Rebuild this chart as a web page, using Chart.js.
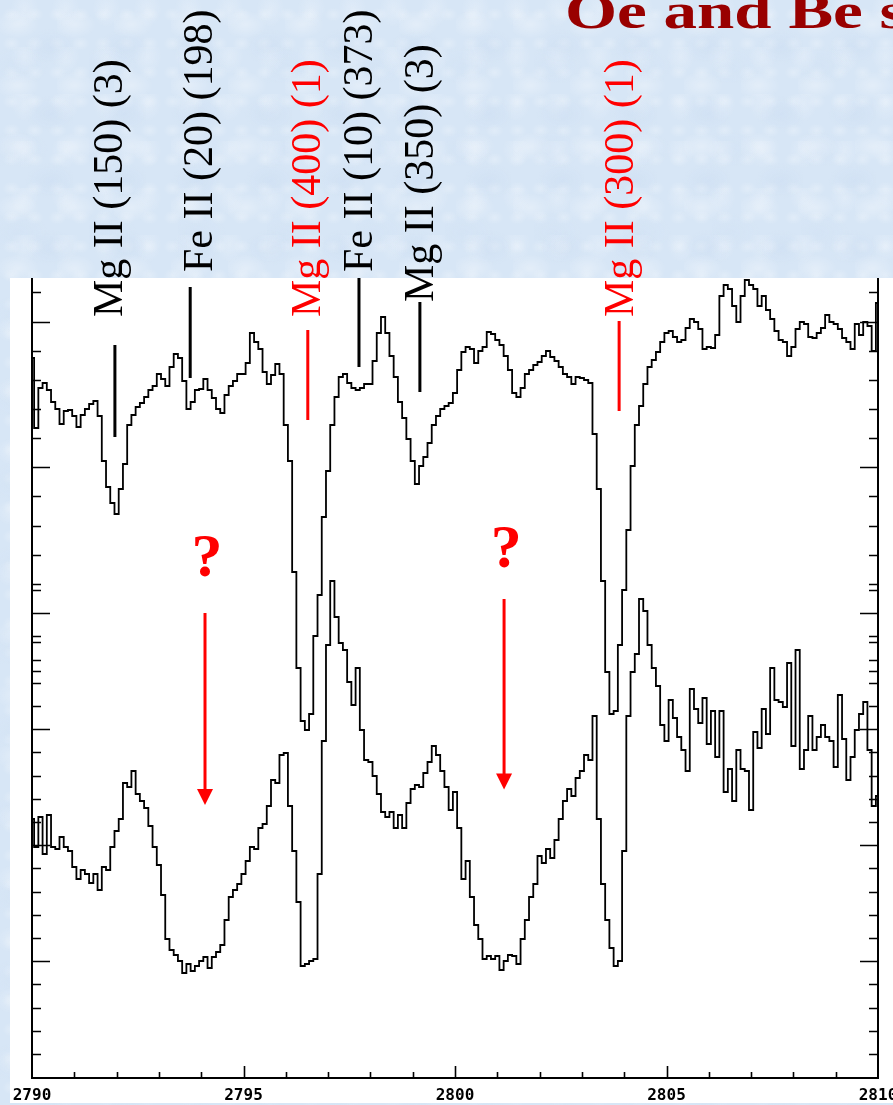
<!DOCTYPE html>
<html>
<head>
<meta charset="utf-8">
<script src="https://cdn.jsdelivr.net/npm/chart.js@4.4.1/dist/chart.umd.min.js"></script>
<style>
  html, body { margin:0; padding:0; }
  body {
    width:893px; height:1105px; overflow:hidden; position:relative;
    background-color:#d7e6f6;
    background-image:
      radial-gradient(ellipse 22px 14px at 30% 40%, rgba(255,255,255,.30), rgba(255,255,255,0)),
      radial-gradient(ellipse 26px 18px at 70% 70%, rgba(190,210,236,.22), rgba(190,210,236,0)),
      radial-gradient(ellipse 14px 18px at 60% 20%, rgba(244,248,253,.30), rgba(244,248,253,0)),
      radial-gradient(ellipse 30px 20px at 20% 80%, rgba(205,222,242,.25), rgba(205,222,242,0)),
      radial-gradient(ellipse 9px 7px at 50% 50%, rgba(255,255,255,.25), rgba(255,255,255,0));
    background-size: 57px 61px, 73px 67px, 41px 47px, 89px 83px, 23px 29px;
  }
  #chart { position:absolute; left:0; top:0; }
  #title {
    position:absolute; left:565px; top:-14px;
    font: bold 50px "Liberation Serif", serif; line-height:50px;
    color:#990000; white-space:nowrap;
    transform:scaleX(1.34); transform-origin:0 0;
  }
</style>
</head>
<body>
<canvas id="chart" width="920" height="1105"></canvas>
<div id="title">Oe and Be stars</div>
<script>
// ---- data (wavelength in Å, relative flux, arbitrary units) ----
const wavelength = [
2790.0,2790.1,2790.2,2790.3,2790.4,2790.5,2790.6,2790.7,2790.8,2790.9,
2791.0,2791.1,2791.2,2791.3,2791.4,2791.5,2791.6,2791.7,2791.8,2791.9,
2792.0,2792.1,2792.2,2792.3,2792.4,2792.5,2792.6,2792.7,2792.8,2792.9,
2793.0,2793.1,2793.2,2793.3,2793.4,2793.5,2793.6,2793.7,2793.8,2793.9,
2794.0,2794.1,2794.2,2794.3,2794.4,2794.5,2794.6,2794.7,2794.8,2794.9,
2795.0,2795.1,2795.2,2795.3,2795.4,2795.5,2795.6,2795.7,2795.8,2795.9,
2796.0,2796.1,2796.2,2796.3,2796.4,2796.5,2796.6,2796.7,2796.8,2796.9,
2797.0,2797.1,2797.2,2797.3,2797.4,2797.5,2797.6,2797.7,2797.8,2797.9,
2798.0,2798.1,2798.2,2798.3,2798.4,2798.5,2798.6,2798.7,2798.8,2798.9,
2799.0,2799.1,2799.2,2799.3,2799.4,2799.5,2799.6,2799.7,2799.8,2799.9,
2800.0,2800.1,2800.2,2800.3,2800.4,2800.5,2800.6,2800.7,2800.8,2800.9,
2801.0,2801.1,2801.2,2801.3,2801.4,2801.5,2801.6,2801.7,2801.8,2801.9,
2802.0,2802.1,2802.2,2802.3,2802.4,2802.5,2802.6,2802.7,2802.8,2802.9,
2803.0,2803.1,2803.2,2803.3,2803.4,2803.5,2803.6,2803.7,2803.8,2803.9,
2804.0,2804.1,2804.2,2804.3,2804.4,2804.5,2804.6,2804.7,2804.8,2804.9,
2805.0,2805.1,2805.2,2805.3,2805.4,2805.5,2805.6,2805.7,2805.8,2805.9,
2806.0,2806.1,2806.2,2806.3,2806.4,2806.5,2806.6,2806.7,2806.8,2806.9,
2807.0,2807.1,2807.2,2807.3,2807.4,2807.5,2807.6,2807.7,2807.8,2807.9,
2808.0,2808.1,2808.2,2808.3,2808.4,2808.5,2808.6,2808.7,2808.8,2808.9,
2809.0,2809.1,2809.2,2809.3,2809.4,2809.5,2809.6,2809.7,2809.8,2809.9,
2810.0];

const upperFlux = [
7.20,6.50,6.90,6.95,6.88,6.76,6.69,6.54,6.67,6.68,
6.62,6.51,6.63,6.69,6.74,6.77,6.62,6.17,5.91,5.75,
5.64,5.89,6.14,6.53,6.63,6.71,6.75,6.81,6.88,6.92,
7.04,6.99,6.92,7.11,7.24,7.20,6.97,6.69,6.76,6.88,
6.89,6.99,6.88,6.80,6.69,6.65,6.83,6.92,6.97,7.04,
7.04,7.15,7.45,7.36,7.29,7.06,6.94,7.03,7.14,7.04,
6.53,6.17,5.06,4.10,3.57,3.48,3.64,4.42,4.83,5.61,
6.07,6.53,6.81,7.01,7.04,6.95,6.90,6.88,6.90,6.94,
6.94,7.17,7.45,7.61,7.45,7.22,7.01,6.76,6.60,6.39,
6.17,5.94,6.12,6.21,6.35,6.53,6.62,6.69,6.72,6.75,
6.85,7.08,7.26,7.31,7.29,7.15,7.27,7.31,7.46,7.44,
7.38,7.33,7.22,7.08,6.85,6.81,6.90,7.04,7.08,7.13,
7.16,7.22,7.27,7.21,7.17,7.11,7.04,7.01,6.94,7.01,
7.00,6.98,6.95,6.44,5.89,4.97,4.06,3.64,3.67,4.33,
4.88,5.48,6.12,6.53,6.72,6.94,7.11,7.18,7.26,7.36,
7.45,7.47,7.41,7.36,7.38,7.50,7.59,7.56,7.49,7.29,
7.31,7.30,7.43,7.82,7.93,7.89,7.72,7.56,7.82,7.98,
7.93,7.89,7.72,7.82,7.68,7.59,7.47,7.38,7.36,7.22,
7.31,7.49,7.56,7.54,7.41,7.40,7.45,7.50,7.63,7.56,
7.54,7.49,7.40,7.36,7.29,7.54,7.43,7.56,7.52,7.27,
7.75];

const lowerFlux = [
2.59,2.31,2.61,2.24,2.63,2.31,2.29,2.41,2.31,2.27,
2.11,1.99,2.08,2.04,1.95,2.04,1.88,2.11,2.08,2.31,
2.47,2.59,2.95,2.91,3.07,2.84,2.77,2.70,2.52,2.31,
2.13,1.83,1.39,1.28,1.23,1.17,1.05,1.14,1.07,1.12,
1.17,1.21,1.10,1.21,1.26,1.33,1.58,1.81,1.88,1.94,
2.04,2.17,2.31,2.29,2.50,2.54,2.72,2.98,2.95,3.23,
3.25,2.72,2.27,1.76,1.12,1.14,1.17,1.19,2.04,3.37,
4.33,4.97,4.61,4.35,4.28,3.96,3.73,4.10,3.48,3.18,
3.16,3.02,2.84,2.66,2.61,2.66,2.50,2.63,2.50,2.75,
2.89,2.93,2.91,3.05,3.16,3.32,3.23,3.07,2.91,2.68,
2.86,2.50,1.99,2.17,1.81,1.53,1.39,1.19,1.22,1.19,
1.22,1.08,1.17,1.23,1.22,1.14,1.39,1.58,1.81,1.94,
2.22,2.15,2.29,2.20,2.38,2.59,2.77,2.89,2.82,3.00,
3.07,3.23,3.18,3.62,2.59,1.94,1.58,1.30,1.12,1.17,
2.27,3.62,4.06,4.24,4.79,4.67,4.33,4.10,3.92,3.53,
3.37,3.78,3.60,3.41,3.28,3.07,3.89,3.69,3.55,3.80,
3.34,3.67,3.21,3.67,2.86,3.09,2.77,3.28,3.09,3.07,
2.68,3.46,3.30,3.69,3.44,4.10,3.78,3.76,3.71,4.15,
3.32,4.28,3.09,3.28,3.62,3.28,3.41,3.53,3.41,3.37,
3.11,3.83,3.39,2.98,3.21,3.48,3.64,3.76,3.28,2.72,
2.82];

// tick positions (no labels on the flux axes)
const xMinorTicks = [2791,2792,2793,2794,2796,2797,2798,2799,2801,2802,2803,2804,2806,2807,2808,2809];
const lowerMajorTicks = [1.17,2.33,3.49,4.65];
const lowerMinorTicks = [0.24,0.47,0.70,0.94,1.40,1.63,1.86,2.10,2.56,2.79,3.02,3.26,3.72,3.95,4.18,4.42,4.88];
const upperMajorTicks = [4.65,6.11,7.56];
const upperMinorTicks = [4.07,4.36,4.94,5.23,5.52,5.82,6.40,6.69,6.98,7.27,7.86];

// line identifications
const lineNames = ['Mg II (150) (3)','Fe II (20) (198)','Mg II (400) (1)','Fe II (10) (373)','Mg II (350) (3)','Mg II (300) (1)'];
const lineWavelength = [2791.96,2793.74,2796.52,2797.73,2799.17,2803.88];
const lineIsMgResonance = [false,false,true,false,false,true];

// ---- annotation geometry (data coordinates) ----
const markerSpan = [[7.33,6.41],[7.91,7.00],[7.48,6.58],[8.01,7.11],[7.76,6.86],[7.57,6.67]];
const labelAnchor = [[2792.13,7.61],[2794.26,8.06],[2796.81,7.61],[2798.04,8.06],[2799.48,7.76],[2804.21,7.61]];
const questionMarks = [[2794.14,5.02],[2801.21,5.11]];
const arrows = [[2794.09,4.65,2.73],[2801.16,4.79,2.885]];

const RED = '#ff0000';

const markerDatasets = lineWavelength.map((w,i)=>({
  label: lineNames[i],
  data: [{x:w,y:markerSpan[i][0]},{x:w,y:markerSpan[i][1]}],
  borderColor: lineIsMgResonance[i] ? RED : '#000',
  borderWidth: 3, pointRadius: 0, fill:false, tension:0
}));

const framePlugin = {
  id:'frame',
  beforeDraw(chart){
    const c = chart.ctx;
    c.save();
    c.fillStyle = '#ffffff';
    c.fillRect(10, 278, chart.width - 10, 825);
    c.restore();
  },
  afterDatasetsDraw(chart){
    const {ctx:c, chartArea:a, scales:{x, y}} = chart;
    c.save();
    c.strokeStyle = '#000';
    c.lineWidth = 2;
    c.beginPath();
    c.moveTo(a.left, a.top); c.lineTo(a.left, a.bottom);
    c.moveTo(a.right, a.top); c.lineTo(a.right, a.bottom);
    c.stroke();
    c.lineWidth = 1.6;
    c.beginPath();
    const hTick = (v, len) => {
      const py = Math.round(y.getPixelForValue(v)) + 0.5;
      c.moveTo(a.left, py); c.lineTo(a.left + len, py);
      c.moveTo(a.right, py); c.lineTo(a.right - len, py);
    };
    lowerMajorTicks.forEach(v => hTick(v, 18));
    upperMajorTicks.forEach(v => hTick(v, 18));
    lowerMinorTicks.forEach(v => hTick(v, 9));
    upperMinorTicks.forEach(v => hTick(v, 9));
    const vTick = (v, len) => {
      const px = Math.round(x.getPixelForValue(v)) + 0.5;
      c.moveTo(px, a.bottom); c.lineTo(px, a.bottom - len);
    };
    x.ticks.forEach(t => { if (t.value > x.min && t.value < x.max) vTick(t.value, 12); });
    xMinorTicks.forEach(v => vTick(v, 6));
    c.stroke();
    c.restore();
  },
  afterDraw(chart){
    const {ctx:c, scales:{x, y}} = chart;
    c.save();
    // rotated line identifications
    c.font = '42px "Liberation Serif", serif';
    c.textAlign = 'left';
    c.textBaseline = 'alphabetic';
    lineNames.forEach((name, i) => {
      c.save();
      c.translate(x.getPixelForValue(labelAnchor[i][0]), y.getPixelForValue(labelAnchor[i][1]));
      c.rotate(-Math.PI/2);
      c.fillStyle = lineIsMgResonance[i] ? RED : '#000';
      c.fillText(name, 0, 0);
      c.restore();
    });
    // question marks
    c.font = 'bold 62px "Liberation Serif", serif';
    c.textAlign = 'center';
    c.fillStyle = RED;
    questionMarks.forEach(q => c.fillText('?', x.getPixelForValue(q[0]), y.getPixelForValue(q[1])));
    // arrows
    c.strokeStyle = RED; c.fillStyle = RED; c.lineWidth = 3;
    arrows.forEach(ar => {
      const px = x.getPixelForValue(ar[0]);
      const p0 = y.getPixelForValue(ar[1]);
      const p1 = y.getPixelForValue(ar[2]);
      c.beginPath(); c.moveTo(px, p0); c.lineTo(px, p1 - 12); c.stroke();
      c.beginPath(); c.moveTo(px - 8, p1 - 16); c.lineTo(px + 8, p1 - 16); c.lineTo(px, p1); c.closePath(); c.fill();
    });
    c.restore();
  }
};

const toXY = (vals) => wavelength.map((w,i) => ({x:w, y:vals[i]}));

new Chart(document.getElementById('chart').getContext('2d'), {
  type: 'line',
  data: {
    datasets: [
      { label:'upper spectrum', data: toXY(upperFlux), stepped:'middle', borderColor:'#000', borderWidth:1.8, pointRadius:0, fill:false, tension:0 },
      { label:'lower spectrum', data: toXY(lowerFlux), stepped:'middle', borderColor:'#000', borderWidth:1.8, pointRadius:0, fill:false, tension:0 },
      ...markerDatasets
    ]
  },
  options: {
    responsive:false, animation:false, devicePixelRatio:1, events:[],
    layout:{ padding:{ left:32, right:42, top:278, bottom:0 } },
    plugins:{ legend:{display:false}, tooltip:{enabled:false}, title:{display:false} },
    scales:{
      x:{ type:'linear', min:2790, max:2810, position:'bottom',
          afterFit:(scale)=>{ scale.height = 27; },
          ticks:{ stepSize:5, autoSkip:false, maxRotation:0, padding:8, color:'#000',
                  font:{ family:"'DejaVu Sans Mono', monospace", size:16, weight:'bold' },
                  callback:(v)=>String(v) },
          grid:{ display:true, drawOnChartArea:false, drawTicks:false },
          border:{ display:true, color:'#000', width:2 } },
      y:{ type:'linear', min:0, max:8, display:false }
    }
  },
  plugins:[framePlugin]
});
</script>
</body>
</html>
